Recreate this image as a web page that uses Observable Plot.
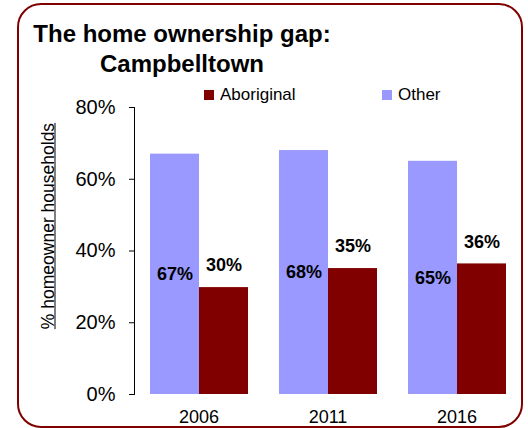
<!DOCTYPE html>
<html><head><meta charset="utf-8">
<script src="https://cdn.jsdelivr.net/npm/d3@7"></script>
<script src="https://cdn.jsdelivr.net/npm/@observablehq/plot@0.6"></script>
<style>
body{margin:0;background:#fff;font-family:"Liberation Sans",Arial,sans-serif;}
#wrap{position:relative;width:528px;height:428px;overflow:hidden;}
#border{position:absolute;left:17px;top:3px;width:506px;height:425px;border:2px solid #800000;border-radius:24px;box-sizing:border-box;}
#title{position:absolute;left:32px;top:19px;width:300px;text-align:center;font-weight:bold;font-size:24px;line-height:30px;color:#000;white-space:nowrap;}
.leg{position:absolute;top:85px;font-size:17px;color:#000;white-space:nowrap;}
.sw{display:inline-block;width:10px;height:10px;margin-right:6px;vertical-align:0px;}
#ylab{position:absolute;left:48px;top:226px;transform:translate(-50%,-50%) rotate(-90deg);font-size:17.5px;text-decoration:underline;white-space:nowrap;}
#chart{position:absolute;left:0;top:0;}
</style></head>
<body>
<div id="wrap">
<div id="chart"></div>
<div id="border"></div>
<div id="title">The home ownership gap:<br>Campbelltown</div>
<div class="leg" style="left:204px"><span class="sw" style="background:#800000"></span>Aboriginal</div>
<div class="leg" style="left:382px"><span class="sw" style="background:#9999FF"></span>Other</div>
<div id="ylab">% homeowner households</div>
</div>
<script>
const years = ["2006", "2011", "2016"];
const series = ["Other", "Aboriginal"];
const otherValues = [67, 68, 65];
const aboriginalValues = [29.8, 35.1, 36.4];
const otherLabels = ["67%", "68%", "65%"];
const aboriginalLabels = ["30%", "35%", "36%"];
const yTicks = [0, 20, 40, 60, 80];
const colors = ["#9999FF", "#800000"];

const data = [];
years.forEach((y, i) => {
  data.push({year: y, series: "Other", value: otherValues[i], label: otherLabels[i]});
  data.push({year: y, series: "Aboriginal", value: aboriginalValues[i], label: aboriginalLabels[i]});
});
const other = data.filter(d => d.series === "Other");
const abor = data.filter(d => d.series === "Aboriginal");

const chart = Plot.plot({
  width: 528,
  height: 428,
  marginTop: 107,
  marginBottom: 34,
  marginLeft: 133,
  marginRight: 7,
  style: {fontFamily: "Liberation Sans, Arial, sans-serif", fontSize: "20px", color: "#000", background: "transparent"},
  fx: {domain: years, padding: 0, label: null},
  x: {domain: series, axis: null, paddingInner: 0, paddingOuter: 0.3},
  y: {domain: [0, 80], label: null, ticks: yTicks, tickFormat: d => d + "%", tickSize: 5, tickPadding: 14, line: true},
  color: {domain: series, range: colors},
  marks: [
    Plot.barY(data, {fx: "year", x: "series", y: "value", fill: "series"}),
    Plot.text(other, {fx: "year", x: "series", y: d => d.value / 2, text: "label", fontWeight: "bold", fontSize: 18, fill: "#000"}),
    Plot.text(abor, {fx: "year", x: "series", y: "value", text: "label", fontWeight: "bold", fontSize: 18, fill: "#000", dy: -22}),
    Plot.axisFx({anchor: "bottom", tickSize: 0, tickPadding: 16, fontSize: 18, label: null})
  ]
});
document.getElementById("chart").appendChild(chart);
</script>
</body></html>
